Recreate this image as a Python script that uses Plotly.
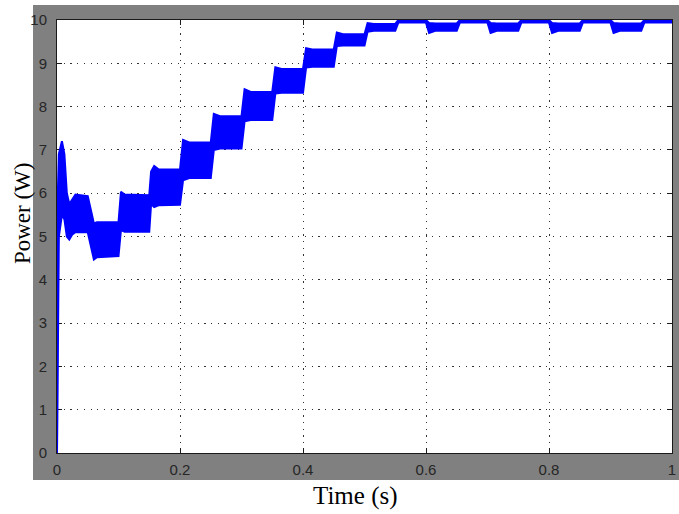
import plotly.graph_objects as go

# Envelope of the (fast-oscillating) power signal
time_s = [0, 0.001, 0.003, 0.008, 0.012, 0.016, 0.02, 0.025, 0.03, 0.05,
          0.055, 0.06, 0.065, 0.1, 0.104, 0.11, 0.15, 0.153, 0.158, 0.165,
          0.2, 0.205, 0.215, 0.25, 0.255, 0.265, 0.3, 0.305, 0.315, 0.35,
          0.355, 0.365, 0.4, 0.405, 0.415, 0.45, 0.455, 0.465, 0.5, 0.505,
          0.515, 0.55, 0.555, 0.6, 0.605, 0.615, 0.65, 0.655, 0.7, 0.705,
          0.715, 0.75, 0.755, 0.8, 0.805, 0.815, 0.85, 0.855, 0.9, 0.905,
          0.915, 0.95, 0.955, 1.0]
power_upper = [0, 5.8, 6.9, 7.2, 6.9, 6.0, 5.75, 5.85, 5.97, 5.93,
               5.6, 5.3, 5.33, 5.33, 6.03, 5.97, 5.95, 6.5, 6.63, 6.55,
               6.55, 7.23, 7.17, 7.17, 7.83, 7.78, 7.78, 8.40, 8.34, 8.34,
               8.91, 8.87, 8.87, 9.35, 9.32, 9.32, 9.71, 9.67, 9.67, 9.93,
               9.91, 9.91, 10.0, 10.0, 9.93, 9.92, 9.92, 10.0, 10.0, 9.93,
               9.92, 9.92, 10.0, 10.0, 9.93, 9.92, 9.92, 10.0, 10.0, 9.93,
               9.92, 9.92, 10.0, 10.0]
power_lower = [0, 2.8, 5.0, 5.5, 5.4, 5.0, 4.93, 5.05, 5.1, 5.1,
               4.75, 4.47, 4.52, 4.55, 5.15, 5.11, 5.11, 5.75, 5.68, 5.72,
               5.73, 6.30, 6.35, 6.35, 7.0, 7.03, 7.03, 7.66, 7.69, 7.69,
               8.30, 8.32, 8.32, 8.90, 8.92, 8.92, 9.40, 9.41, 9.41, 9.73,
               9.75, 9.75, 9.94, 9.94, 9.70, 9.75, 9.75, 9.94, 9.94, 9.70,
               9.75, 9.75, 9.94, 9.94, 9.70, 9.75, 9.75, 9.94, 9.94, 9.70,
               9.75, 9.75, 9.94, 9.94]

x_ticks = [0, 0.2, 0.4, 0.6, 0.8, 1]
y_ticks = [0, 1, 2, 3, 4, 5, 6, 7, 8, 9, 10]
x_title = "Time (s)"
y_title = "Power (W)"

BLUE = "#0000FF"

fig = go.Figure()
fig.add_trace(go.Scatter(x=time_s, y=power_lower, mode="lines",
                         line=dict(color=BLUE, width=2), showlegend=False,
                         hoverinfo="skip"))
fig.add_trace(go.Scatter(x=time_s, y=power_upper, mode="lines",
                         line=dict(color=BLUE, width=2), fill="tonexty",
                         fillcolor=BLUE, showlegend=False, hoverinfo="skip"))

axis_common = dict(
    showline=True, linecolor="#1a1a1a", linewidth=1, mirror="ticks",
    ticks="inside", ticklen=5, tickwidth=1, tickcolor="#1a1a1a",
    showgrid=True, gridcolor="#333333", gridwidth=1, griddash="1.2px,5.5px",
    zeroline=False, layer="below traces", automargin=False,
    tickfont=dict(family="Liberation Sans, Arial, sans-serif", size=15, color="#262626"),
)

fig.update_xaxes(range=[0, 1], tickvals=x_ticks, ticktext=[f"{v:g}" for v in x_ticks],
                 ticklabelstandoff=3, **axis_common)
fig.update_yaxes(range=[0, 10], tickvals=y_ticks, ticktext=[str(v) for v in y_ticks],
                 ticklabelstandoff=6, **axis_common)

fig.update_layout(
    width=679, height=514,
    margin=dict(l=57, r=7, t=20, b=61, pad=0),
    paper_bgcolor="white", plot_bgcolor="white",
    hovermode=False,
    shapes=[
        dict(type="rect", xref="paper", yref="paper", x0=-0.039, x1=1.02,
             y0=-0.0624, y1=1.0346, fillcolor="#808080", line=dict(width=0), layer="below"),
        dict(type="rect", xref="paper", yref="paper", x0=0, x1=1, y0=0, y1=1,
             fillcolor="white", line=dict(width=0), layer="below"),
    ],
    annotations=[
        dict(text=x_title, xref="paper", yref="paper", x=0.4846, y=-0.099,
             xanchor="center", yanchor="middle", showarrow=False,
             font=dict(family="Liberation Serif, Times New Roman, serif", size=25, color="black")),
        dict(text=y_title, xref="paper", yref="paper", x=-0.0569, y=0.554,
             xanchor="center", yanchor="middle", showarrow=False, textangle=-90,
             font=dict(family="Liberation Serif, Times New Roman, serif", size=23, color="black")),
    ],
)

fig.write_html("out.html", config={"displayModeBar": False, "staticPlot": True},
               post_script="document.body.style.margin='0';document.body.style.padding='0';")
